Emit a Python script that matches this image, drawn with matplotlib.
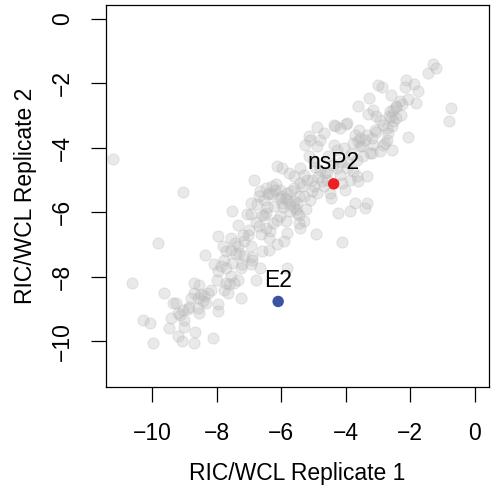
import matplotlib
matplotlib.use("Agg")
import matplotlib.pyplot as plt

plt.rcParams["font.family"] = ["Liberation Sans", "DejaVu Sans"]

# grey cloud: RIC/WCL log ratios, replicate 1 vs replicate 2
rep1 = [
    -1.31, -1.21, -1.46, -2.99, -2.89, -2.12, -1.89, -2.17, -1.76, -2.59,
    -3.27, -3.61, -3.15, -2.07, -1.83, -2.32, -2.43, -2.53, -2.63, -2.30,
    -2.43, -2.53, -2.84, -2.58, -0.73, -0.80, -2.07, -3.99, -3.71, -3.56,
    -3.40, -3.19, -2.73, -2.84, -2.58, -3.15, -3.20, -2.73, -4.90, -4.33,
    -4.18, -5.15, -5.26, -4.69, -4.79, -3.97, -5.10, -4.90, -4.38, -4.28,
    -4.07, -3.77, -3.61, -2.94, -2.79, -3.25, -3.46, -3.66, -6.13, -5.98,
    -5.77, -3.97, -3.77, -3.66, -3.35, -3.87, -3.61, -4.69, -4.48, -4.23,
    -3.87, -3.40, -6.18, -6.03, -5.82, -5.62, -5.41, -5.20, -5.00, -4.90,
    -5.10, -5.31, -5.51, -5.72, -5.98, -4.74, -4.64, -4.12, -4.02, -3.35,
    -3.71, -4.38, -6.85, -9.06, -6.65, -6.49, -6.28, -6.70, -6.54, -6.39,
    -7.52, -6.95, -6.75, -6.49, -6.23, -5.82, -5.62, -5.46, -5.72, -5.51,
    -6.03, -6.13, -5.87, -5.46, -7.36, -6.70, -6.49, -6.34, -5.82, -6.64,
    -6.39, -6.13, -5.93, -7.96, -7.16, -6.95, -7.36, -7.57, -7.73, -7.31,
    -7.16, -6.90, -6.59, -6.39, -7.78, -7.52, -8.09, -7.88, -7.21, -6.95,
    -6.65, -8.37, -5.82, -9.83, -10.64, -9.63, -8.72, -8.55, -9.37, -9.27,
    -9.06, -9.22, -8.81, -8.70, -8.50, -8.44, -8.60, -8.55, -8.29, -8.19,
    -8.34, -7.98, -7.98, -7.78, -7.67, -7.73, -10.30, -10.06, -9.42, -9.48,
    -9.01, -9.03, -9.22, -9.09, -8.68, -8.70, -9.99, -8.12, -7.98, -7.73,
    -7.57, -7.47, -7.62, -7.36, -7.26, -7.24, -7.57, -11.22, -7.06, -4.92,
    -4.12, -5.31, -5.41, -6.80, -5.15, -5.00, -4.79, -4.28, -4.18, -5.41,
    -5.31, -5.62, -6.30, -5.85, -5.55, -3.30, -3.05, -7.40, -7.05, -6.60,
    -6.05, -4.95, -4.55, -3.60, -2.70, -8.90, -8.00, -6.90, -5.25, -4.45,
    -6.40, -6.20, -6.00, -5.70, -5.35, -5.05, -4.85, -4.60, -4.40, -4.15,
    -3.85, -3.50, -3.35, -3.10, -2.95, -2.65, -2.45, -2.25, -7.80, -7.45,
    -7.20, -7.00, -6.80, -6.55, -8.60, -8.40, -8.85, -9.15, -6.95, -6.45,
    -5.95, -5.60, -5.05, -4.60, -3.95, -3.55, -3.05, -2.60, -5.45, -6.25,
]
rep2 = [
    -1.39, -1.53, -1.67, -2.05, -2.11, -1.91, -2.01, -2.11, -2.23, -2.36,
    -2.46, -2.69, -2.82, -2.49, -2.61, -2.56, -2.70, -2.82, -2.87, -2.97,
    -3.08, -3.18, -3.28, -3.32, -2.76, -3.18, -3.68, -3.25, -3.59, -3.69,
    -3.75, -3.69, -3.75, -3.90, -4.06, -3.90, -4.15, -3.39, -3.37, -3.32,
    -3.39, -3.63, -3.90, -3.54, -3.75, -3.23, -3.75, -3.96, -3.90, -4.06,
    -4.01, -3.85, -3.80, -4.11, -3.85, -4.16, -4.27, -4.37, -4.58, -4.63,
    -4.78, -4.63, -4.73, -4.89, -4.89, -4.99, -5.04, -5.20, -5.40, -6.02,
    -5.97, -5.87, -5.14, -5.30, -5.40, -5.25, -5.09, -4.99, -5.20, -5.40,
    -5.61, -5.51, -5.71, -5.76, -5.71, -5.04, -4.78, -5.09, -5.30, -5.71,
    -5.71, -3.28, -5.01, -5.37, -5.35, -5.25, -5.20, -5.51, -5.61, -5.40,
    -5.97, -6.07, -5.76, -6.02, -5.82, -5.61, -5.66, -5.51, -5.97, -6.02,
    -6.13, -6.23, -6.28, -6.33, -6.41, -6.44, -6.49, -6.59, -6.64, -6.69,
    -6.80, -7.00, -6.90, -6.75, -6.90, -7.06, -7.06, -7.16, -7.21, -7.26,
    -7.37, -7.47, -7.21, -7.16, -7.47, -7.57, -7.62, -7.68, -7.62, -7.62,
    -7.73, -7.34, -7.73, -6.97, -8.19, -8.52, -8.19, -8.27, -8.83, -8.81,
    -9.02, -9.12, -8.66, -8.50, -8.55, -8.76, -8.96, -9.12, -8.50, -8.40,
    -8.81, -8.86, -9.07, -8.40, -8.50, -8.19, -9.33, -9.45, -9.27, -9.58,
    -9.33, -9.55, -9.85, -10.00, -9.72, -10.05, -10.05, -9.91, -7.83, -7.73,
    -7.99, -8.19, -8.24, -8.09, -7.73, -8.66, -6.80, -4.35, -6.07, -6.69,
    -6.92, -6.28, -6.49, -8.09, -4.27, -4.42, -4.68, -4.63, -4.83, -4.63,
    -4.83, -4.89, -5.45, -5.55, -5.90, -2.95, -3.00, -7.30, -6.70, -6.10,
    -5.55, -4.60, -4.25, -3.45, -3.55, -9.00, -8.10, -7.40, -5.90, -5.55,
    -5.45, -5.30, -5.50, -5.35, -5.20, -5.00, -4.90, -4.75, -4.55, -4.45,
    -4.20, -3.95, -3.60, -3.45, -3.15, -3.00, -2.75, -2.65, -7.05, -6.95,
    -6.70, -6.55, -6.30, -6.10, -8.65, -8.60, -8.95, -9.20, -5.70, -5.85,
    -5.85, -5.85, -5.35, -5.00, -4.45, -3.95, -3.50, -3.05, -6.10, -6.35,
]

# highlighted proteins
hl_names = ["nsP2", "E2"]
hl_rep1 = [-4.38, -6.10]
hl_rep2 = [-5.12, -8.77]
hl_colors = ["#ED2024", "#3A53A4"]

fig = plt.figure(figsize=(5.0, 4.93), dpi=100)
ax = fig.add_axes([0.212, 0.214, 0.766, 0.7765])

ax.scatter(rep1, rep2, s=64, color=(0.72, 0.72, 0.72, 0.3),
           edgecolors=(0.72, 0.72, 0.72, 0.3), linewidths=0.8, zorder=2)
ax.scatter(hl_rep1, hl_rep2, s=68, c=hl_colors, linewidths=0, zorder=3)
for name, xv, yv in zip(hl_names, hl_rep1, hl_rep2):
    ax.annotate(name, (xv, yv), xytext=(0, 10.5), textcoords="offset points",
                ha="center", va="baseline", fontsize=16.5)

ax.set_xlim(-11.44, 0.44)
ax.set_ylim(-11.44, 0.44)
ax.set_xticks([-10, -8, -6, -4, -2, 0])
ax.set_yticks([-10, -8, -6, -4, -2, 0])
ax.tick_params(axis="both", direction="out", length=10.8, width=0.9,
               labelsize=16.5)
ax.tick_params(axis="x", pad=14)
ax.tick_params(axis="y", pad=12, labelrotation=90)
for lab in ax.get_yticklabels():
    lab.set_va("center")
for sp in ax.spines.values():
    sp.set_linewidth(0.9)

ax.set_xlabel("RIC/WCL Replicate 1", fontsize=16.5, labelpad=12)
ax.set_ylabel("RIC/WCL Replicate 2", fontsize=16.5, labelpad=10)

fig.savefig("out.png", dpi=100)
